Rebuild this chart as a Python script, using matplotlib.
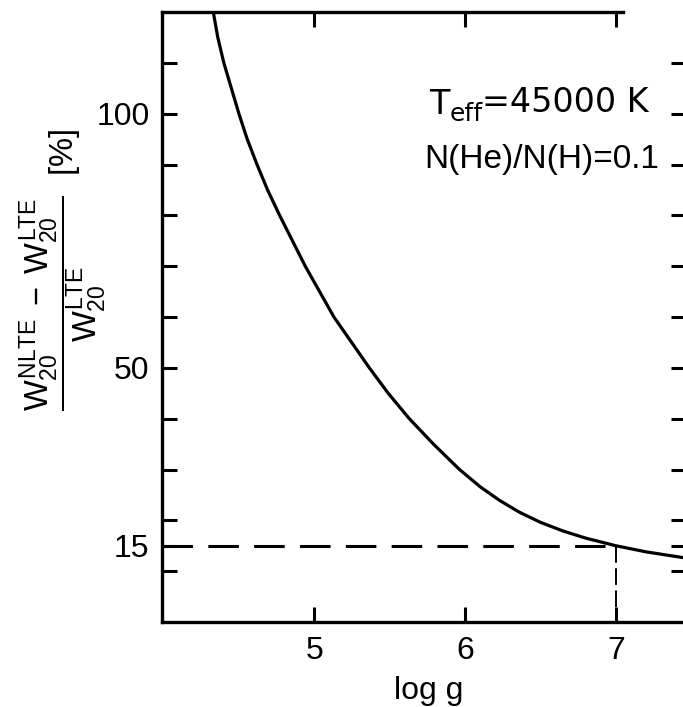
import matplotlib
matplotlib.use('Agg')
import matplotlib.pyplot as plt
from matplotlib.ticker import FixedLocator, FixedFormatter

FONTS = ['Liberation Sans', 'DejaVu Sans']
plt.rcParams['font.family'] = FONTS
plt.rcParams['mathtext.fontset'] = 'custom'
plt.rcParams['mathtext.rm'] = FONTS[0]
plt.rcParams['mathtext.it'] = FONTS[0]
plt.rcParams['mathtext.bf'] = FONTS[0]
plt.rcParams['lines.scale_dashes'] = False

#--------------------------------------------------------------------
# data
logg = [4.33, 4.36, 4.40, 4.45, 4.50, 4.555, 4.62, 4.69, 4.77, 4.94, 5.13, 5.365,
        5.49, 5.63, 5.79, 5.963, 6.10, 6.23, 6.36, 6.50, 6.65, 6.80, 7.00, 7.20, 7.46]
diff_pct = [120, 115, 110, 105, 100, 95, 90, 85, 80, 70, 60, 50,
            45, 40, 35, 30, 26.6, 23.9, 21.6, 19.6, 17.9, 16.5, 15.0, 13.8, 12.6]

ref_logg = 7.0   # vertical marker
ref_pct = 15     # horizontal marker

ytick_vals = [10, 15, 20, 30, 40, 50, 60, 70, 80, 90, 100, 110]
ytick_labels = ['', '15', '', '', '', '50', '', '', '', '', '100', '']
xtick_vals = [5, 6, 7]
xtick_labels = ['5', '6', '7']

#--------------------------------------------------------------------
# plot
fig = plt.figure(figsize=(6.83, 7.07), dpi=100)
ax = fig.add_axes([162/683, 85/707, 524/683, 610/707])

ax.plot(logg, diff_pct, color='black', lw=2.3, solid_capstyle='butt',
        solid_joinstyle='round')
ax.plot([3.99, ref_logg], [ref_pct, ref_pct], color='black', lw=2.2,
        dashes=(22, 11), dash_capstyle='butt')
ax.plot([ref_logg, ref_logg], [ref_pct, 0], color='black', lw=1.4,
        dashes=(12, 4))

ax.set_xlim(3.99, 7.465)
ax.set_ylim(0, 120)

for s in ['left', 'bottom', 'top']:
    ax.spines[s].set_linewidth(2.4)
ax.spines['right'].set_visible(False)
ax.spines['top'].set_bounds(3.99, 7.05)

ax.xaxis.set_major_locator(FixedLocator(xtick_vals))
ax.xaxis.set_major_formatter(FixedFormatter(xtick_labels))
ax.yaxis.set_major_locator(FixedLocator(ytick_vals))
ax.yaxis.set_major_formatter(FixedFormatter(ytick_labels))

ax.tick_params(axis='both', direction='in', length=11, width=2.2,
               labelsize=23, top=True, right=True, pad=10)
ax.tick_params(axis='y', pad=9)

ax.set_xlabel('log g', fontsize=23)
ax.xaxis.set_label_coords((429-162)/524, -0.088)

# y label: fraction + [%], rotated
fig.text(63/683, 1 - 270/707,
         r'$\dfrac{W_{20}^{\rm NLTE}\;-\;W_{20}^{\rm LTE}}{W_{20}^{\rm LTE}}$  [%]',
         fontsize=23.5, rotation=90, rotation_mode='anchor',
         ha='center', va='center')

# annotation  (T_eff with a large subscript)
t1 = ax.text(5.76, 100, 'T', fontsize=24, family='DejaVu Sans',
             ha='left', va='baseline')
t2 = ax.annotate('eff', xy=(1, 0), xycoords=t1, xytext=(0, 0),
                 textcoords='offset points', fontsize=18, family='DejaVu Sans',
                 ha='left', va='baseline')
ax.annotate('=45000 K', xy=(1, 0), xycoords=t2, xytext=(0, 10),
            textcoords='offset points', fontsize=24, family='DejaVu Sans',
            ha='left', va='baseline')
ax.text(5.73, 89.4, 'N(He)/N(H)=0.1', fontsize=24, ha='left', va='baseline')

plt.savefig('out.png', dpi=100)
